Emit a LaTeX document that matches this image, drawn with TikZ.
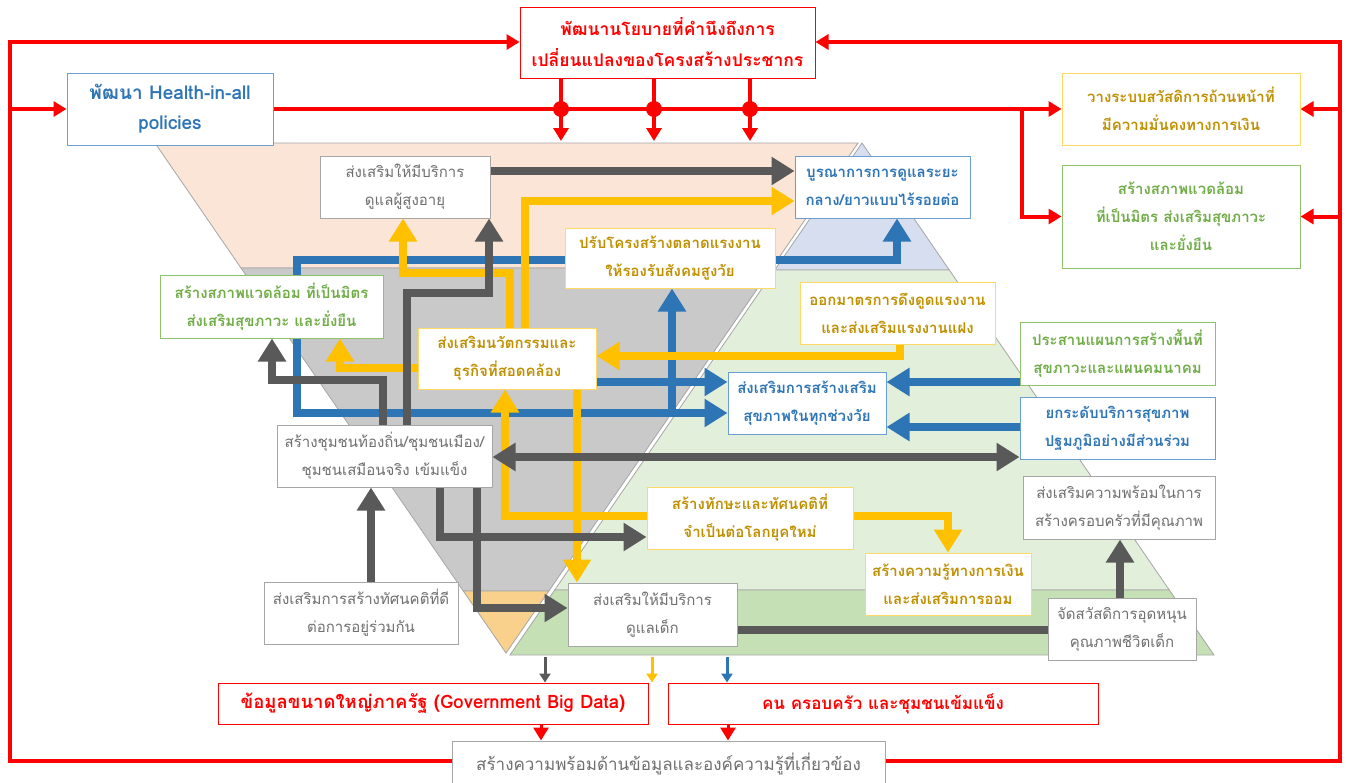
\documentclass[tikz,border=0pt]{standalone}
\usepackage{fontspec}
\newfontfamily\thai[Script=Thai]{Loma}
\usetikzlibrary{arrows.meta}
\pgfdeclarelayer{bg}
\pgfdeclarelayer{lines}
\pgfsetlayers{bg,lines,main}
\definecolor{cpeach}{HTML}{FBE5D6}
\definecolor{cgrayband}{HTML}{C9C9C9}
\definecolor{corange}{HTML}{F9D18C}
\definecolor{cblueband}{HTML}{D6DEF0}
\definecolor{cgreenA}{HTML}{E2EFDA}
\definecolor{cgreenB}{HTML}{C5E0B4}
\definecolor{cedge}{HTML}{A6A6A6}
\definecolor{agray}{HTML}{595959}
\definecolor{ablue}{HTML}{2E75B6}
\definecolor{agold}{HTML}{FFC000}
\definecolor{ared}{HTML}{FF0000}
\definecolor{tgold}{HTML}{BF9000}
\definecolor{tblue}{HTML}{2E75B6}
\definecolor{tgreen}{HTML}{70AD47}
\definecolor{tgray}{HTML}{6F6F6F}
\definecolor{bgold}{HTML}{FFD966}
\definecolor{bblue}{HTML}{6A9FD3}
\definecolor{bgreen}{HTML}{8FC06A}
\definecolor{bgray}{HTML}{A6A6A6}
\tikzset{
  bx/.style={draw, fill=white, align=center, inner sep=1pt, line width=1pt,
    font=\thai\fontsize{15}{28}\selectfont},
  gbox/.style={bx, draw=bgray, text=tgray},
  ybox/.style={bx, draw=bgold, text=tgold, font=\thai\bfseries\fontsize{15}{28}\selectfont},
  bbox/.style={bx, draw=bblue, text=tblue, font=\thai\bfseries\fontsize{15}{28}\selectfont},
  grbox/.style={bx, draw=bgreen, text=tgreen, font=\thai\bfseries\fontsize{15}{28}\selectfont},
  rbox/.style={bx, draw=ared, text=ared, font=\thai\bfseries\fontsize{17}{31}\selectfont},
  band/.style={draw=cedge, line width=0.8pt},
  bigtip/.tip={Triangle[width=27pt,length=23pt]},
  thickarr/.style={line width=8pt, -bigtip},
  garr/.style={thickarr, draw=agray},
  barr/.style={thickarr, draw=ablue},
  yarr/.style={thickarr, draw=agold},
  rline/.style={draw=ared, line width=4pt},
  rarr/.style={rline, -{Triangle[width=15pt,length=13pt]}},
  smallarr/.style={line width=3pt, -{Triangle[width=11pt,length=9pt]}},
}
\begin{document}
\begin{tikzpicture}[x=1pt,y=-1pt]
\useasboundingbox (0,0) rectangle (1346,782);

% ---------- nodes ----------
\node[rbox, font=\thai\bfseries\fontsize{17.5}{31}\selectfont, minimum width=295, minimum height=71] (top) at (667.5,42.5)
  {พัฒนานโยบายที่คำนึงถึงการ\\เปลี่ยนแปลงของโครงสร้างประชากร};
\node[bbox, font=\thai\bfseries\fontsize{19}{30}\selectfont, minimum width=206, minimum height=72] (health) at (170,109)
  {พัฒนา Health-in-all\\policies};
\node[ybox, minimum width=238, minimum height=72] (plan) at (1181,109)
  {วางระบบสวัสดิการถ้วนหน้าที่\\มีความมั่นคงทางการเงิน};
\node[grbox, minimum width=238, minimum height=103] (env) at (1181,216.5)
  {สร้างสภาพแวดล้อม\\ที่เป็นมิตร ส่งเสริมสุขภาวะ\\และยั่งยืน};
\node[gbox, minimum width=170, minimum height=62] (elder) at (405,187)
  {ส่งเสริมให้มีบริการ\\ดูแลผู้สูงอายุ};
\node[bbox, minimum width=175, minimum height=62] (integ) at (882.5,187)
  {บูรณาการการดูแลระยะ\\กลาง/ยาวแบบไร้รอยต่อ};
\node[ybox, minimum width=210, minimum height=60] (labmkt) at (670,258)
  {ปรับโครงสร้างตลาดแรงงาน\\ให้รองรับสังคมสูงวัย};
\node[grbox, minimum width=223, minimum height=63] (envL) at (271.5,306.5)
  {สร้างสภาพแวดล้อม ที่เป็นมิตร\\ส่งเสริมสุขภาวะ และยั่งยืน};
\node[ybox, minimum width=195, minimum height=62] (labor) at (897.5,313)
  {ออกมาตรการดึงดูดแรงงาน\\และส่งเสริมแรงงานแฝง};
\node[ybox, minimum width=178, minimum height=61] (inno) at (507,358.5)
  {ส่งเสริมนวัตกรรมและ\\ธุรกิจที่สอดคล้อง};
\node[grbox, minimum width=195, minimum height=63] (coord) at (1117.5,353.5)
  {ประสานแผนการสร้างพื้นที่\\สุขภาวะและแผนคมนาคม};
\node[bbox, minimum width=158, minimum height=62] (hp) at (807,403)
  {ส่งเสริมการสร้างเสริม\\สุขภาพในทุกช่วงวัย};
\node[bbox, minimum width=195, minimum height=62] (prim) at (1117.5,428)
  {ยกระดับบริการสุขภาพ\\ปฐมภูมิอย่างมีส่วนร่วม};
\node[gbox, minimum width=215, minimum height=62] (chum) at (384.5,456)
  {สร้างชุมชนท้องถิ่น/ชุมชนเมือง/\\ชุมชนเสมือนจริง เข้มแข็ง};
\node[gbox, minimum width=192, minimum height=63] (fam) at (1119,507.5)
  {ส่งเสริมความพร้อมในการ\\สร้างครอบครัวที่มีคุณภาพ};
\node[ybox, minimum width=206, minimum height=62] (skill) at (750,518)
  {สร้างทักษะและทัศนคติที่\\จำเป็นต่อโลกยุคใหม่};
\node[ybox, minimum width=166, minimum height=62] (fin) at (948,584)
  {สร้างความรู้ทางการเงิน\\และส่งเสริมการออม};
\node[gbox, minimum width=194, minimum height=62] (att) at (361,613)
  {ส่งเสริมการสร้างทัศนคติที่ดี\\ต่อการอยู่ร่วมกัน};
\node[gbox, minimum width=169, minimum height=63] (child) at (652.5,614.5)
  {ส่งเสริมให้มีบริการ\\ดูแลเด็ก};
\node[gbox, minimum width=148, minimum height=62] (welf) at (1122,629)
  {จัดสวัสดิการอุดหนุน\\คุณภาพชีวิตเด็ก};
\node[rbox, font=\thai\bfseries\fontsize{18.5}{31}\selectfont, minimum width=430, minimum height=41] (bigd) at (433,703.5)
  {ข้อมูลขนาดใหญ่ภาครัฐ (Government Big Data)};
\node[rbox, minimum width=430, minimum height=41] (ppl) at (883,703.5)
  {คน ครอบครัว และชุมชนเข้มแข็ง};
\node[gbox, font=\thai\fontsize{17}{30}\selectfont, minimum width=433, minimum height=46] (bottom) at (668.5,764)
  {สร้างความพร้อมด้านข้อมูลและองค์ความรู้ที่เกี่ยวข้อง};

% free ends
\coordinate (fl) at (10,109);
\coordinate (fr1) at (1340,109);
\coordinate (fr2) at (1340,216.5);
\coordinate (d1) at (561,109);
\coordinate (d2) at (654,109);
\coordinate (d3) at (750,109);
\coordinate (sg) at (545,657);
\coordinate (sy) at (652,657);
\coordinate (sb) at (727,657);
\coordinate (bj) at (672,413);

% ---------- background ----------
\begin{pgfonlayer}{bg}
\fill[white] (0,0) rectangle (1346,782);
\filldraw[band, fill=cpeach] (155,143) -- (858,143) -- (771.7,268) -- (241,268) -- cycle;
\filldraw[band, fill=cgrayband] (241,268) -- (771.7,268) -- (548.8,591) -- (463.3,591) -- cycle;
\filldraw[band, fill=corange] (463.3,591) -- (548.8,591) -- (506,653) -- cycle;
\filldraw[band, fill=cblueband] (862,143) -- (949.3,270) -- (774.7,270) -- cycle;
\filldraw[band, fill=cgreenA] (774.7,270) -- (949.3,270) -- (1169.3,590) -- (554.7,590) -- cycle;
\filldraw[band, fill=cgreenB] (554.7,590) -- (1169.3,590) -- (1214,655) -- (510,655) -- cycle;
\end{pgfonlayer}

% ---------- connectors ----------
\begin{pgfonlayer}{lines}
% red frame
\draw[rarr] (bottom.west |- 0,761) -| (10,42) -- (top.west |- 0,42);
\draw[rarr] (bottom.east |- 0,761) -| (1340,42) -- (top.east |- 0,42);
\draw[rarr] (fl) -- (health.west);
\draw[rarr] (health.east) -- (plan.west);
\draw[rarr] (1022,109) |- (env.west);
\draw[rarr] (fr1) -- (plan.east);
\draw[rarr] (fr2) -- (env.east);
\foreach \c in {d1,d2,d3}{
  \draw[rarr] (\c |- top.south) -- ([yshift=-32pt]\c);
  \fill[ared] (\c) circle[radius=8pt];
}
\draw[rarr, line width=3pt] (541,0 |- bigd.south) -- (541,0 |- bottom.north);
\draw[rarr, line width=3pt] (728,0 |- ppl.south) -- (728,0 |- bottom.north);

% blue
\draw[barr, bigtip-bigtip]
  (897,0 |- integ.south) |- (297,260) |- (hp.west |- 0,413);
\draw[barr] (bj) -- (672,0 |- labmkt.south);
\draw[barr] (inno.east |- 0,382) -- (hp.west |- 0,382);
\draw[barr] (coord.west |- 0,382) -- (hp.east |- 0,382);
\draw[barr] (prim.west |- 0,427) -- (hp.east |- 0,427);

% yellow
\draw[yarr] (525,0 |- inno.north) |- (integ.west |- 0,201);
\draw[yarr] (510,0 |- inno.north) |- (403,273) -- (403,0 |- elder.south);
\draw[yarr] (inno.west |- 0,368) -| (340,0 |- envL.south);
\draw[yarr] (900,0 |- labor.south) |- (inno.east |- 0,356);
\draw[yarr] (skill.west |- 0,516) -| (505,0 |- inno.south);
\draw[yarr] (577,0 |- inno.south) -- (577,0 |- child.north);
\draw[yarr] (skill.east |- 0,516) -| (948,0 |- fin.north);

% gray
\draw[garr] (elder.east |- 0,171) -- (integ.west |- 0,171);
\draw[garr] (407,0 |- chum.north) |- (489,293) -- (489,0 |- elder.south);
\draw[garr] (383,0 |- chum.north) |- (272,380) -- (272,0 |- envL.south);
\draw[garr] (440,0 |- chum.south) |- (skill.west |- 0,537);
\draw[garr] (477,0 |- chum.south) |- (child.west |- 0,608);
\draw[garr, bigtip-bigtip]
  (chum.east |- 0,457) -- (prim.west |- 0,457);
\draw[garr] (371,0 |- att.north) -- (371,0 |- chum.south);
\draw[draw=agray, line width=8pt] (child.east |- 0,630) -- (welf.west |- 0,630);
\draw[garr] (1120,0 |- welf.north) -- (1120,0 |- fam.south);

% small outcome arrows
\draw[smallarr, draw=agray] (sg) -- (545,0 |- bigd.north);
\draw[smallarr, draw=agold] (sy) -- (652,0 |- bigd.north);
\draw[smallarr, draw=ablue] (sb) -- (727,0 |- ppl.north);
\end{pgfonlayer}
\end{tikzpicture}
\end{document}
